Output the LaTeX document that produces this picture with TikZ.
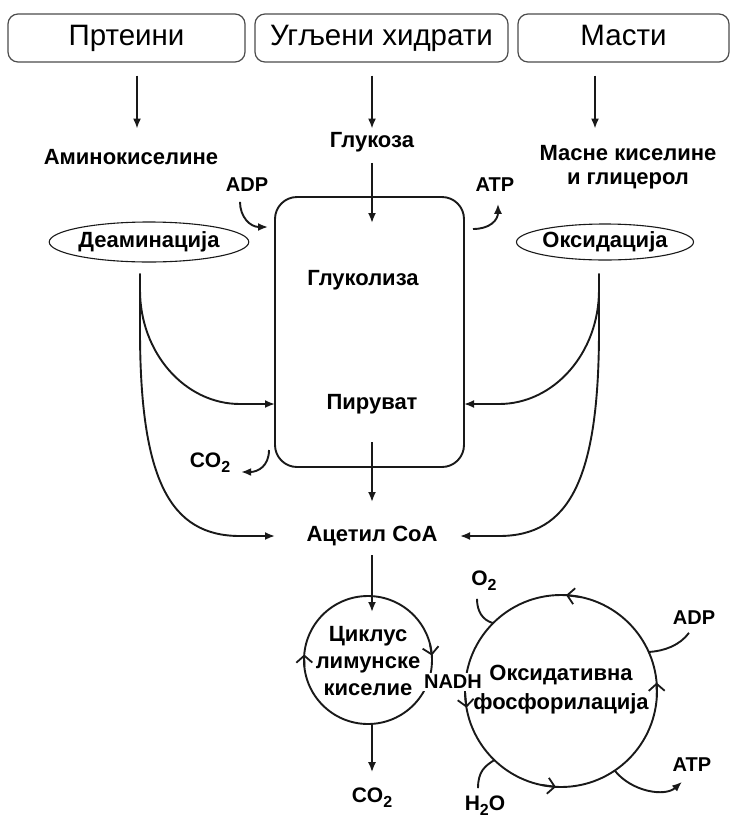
\documentclass[tikz,border=0pt]{standalone}
\usepackage{fontspec}
\setmainfont{Liberation Sans}
\usetikzlibrary{arrows.meta,calc,shapes.geometric}
\newcommand\lowtwo{\raisebox{-5pt}{\fontsize{16}{16}\selectfont 2}}
\begin{document}
\begin{tikzpicture}[x=1pt,y=-1pt,
  line width=1.9pt, draw=black!90,
  src/.style={draw=black!70, line width=1.2pt, rounded corners=10pt,
    minimum width=#1, minimum height=48pt, inner sep=0pt,
    text height=21pt, text depth=6pt,
    font=\fontsize{29.5}{29.5}\selectfont},
  lbl/.style={font=\bfseries\fontsize{22}{25}\selectfont, inner sep=1pt, align=center},
  sm/.style={font=\bfseries\fontsize{20}{20}\selectfont, inner sep=1pt},
  chem/.style={font=\bfseries\fontsize{21}{21}\selectfont, inner sep=1pt},
  oval/.style={ellipse, draw, line width=1.1pt, inner sep=0pt,
    minimum width=176pt, minimum height=#1,
    font=\bfseries\fontsize{22}{22}\selectfont},
  ring/.style={circle, draw, line width=1.9pt, inner sep=0pt, outer sep=0pt, minimum size=#1},
  arr/.style={-{Latex[length=10pt,width=8pt]}},
  chev/.style={-{Straight Barb[length=7pt,width=16pt,line width=1.8pt]}}]
\useasboundingbox (0,0) rectangle (731,820);

% nutrient sources
\node[src=237pt] (prot) at (126.5,38) {Пртеини};
\node[src=253pt] (carb) at (381.5,38) {Угљени хидрати};
\node[src=211pt] (fat)  at (623.5,38) {Масти};

% first products
\node[lbl] (amino) at (131,157) {Аминокиселине};
\node[lbl] (gluc)  at (372,142) {Глукоза};
\node[lbl, font=\bfseries\fontsize{22}{24}\selectfont] (fatty) at (628,167) {Масне киселине\\и глицерол};

\draw[arr] ($(prot.south)+(10.5,13)$) -- ($(prot.south)+(10.5,66)$);
\draw[arr] ($(carb.south)+(-9.5,13)$) -- ($(carb.south)+(-9.5,66)$);
\draw[arr] ($(fat.south)+(-28.5,13)$) -- ($(fat.south)+(-28.5,66)$);

% side pathways
\node[oval=40pt] (deam) at (149,242) {Деаминација};
\node[oval=36pt] (oxid) at (605,242) {Оксидација};

% glycolysis block
\node[draw, line width=1.9pt, rounded corners=22pt, minimum width=189pt,
  minimum height=270pt, inner sep=0pt, outer sep=0pt] (glyc) at (369.5,332) {};
\node[lbl] (glycl) at (363,280) {Глуколиза};
\node[lbl] (pyr) at (372,404) {Пируват};
\node[sm] (adp1) at (247,185) {ADP};
\node[sm] (atp1) at (495,185) {ATP};

\draw[arr] ($(gluc.south)+(0,9)$) -- ($(glyc.north -| gluc.south)+(0,26)$);
\draw[arr] ($(adp1.south)+(-7,8)$) .. controls +(0,15) and (250,227) .. (268,227);
\draw[arr] ($(glyc.east)+(9,-103)$) .. controls (490,229) and (498,220) .. ($(atp1.south)+(3,10)$);

% acetyl CoA
\node[lbl] (acet) at (372,536) {Ацетил CoA};
\node[chem] (co2a) at (210,463) {CO\lowtwo};
\draw[arr] ($(pyr.center)+(0,38)$) -- ($(acet.center)+(0,-34)$);
\draw[arr] ($(glyc.south west)+(-6,-17)$) .. controls +(0,16) and (258,472) .. ($(co2a.east)+(9,9)$);

% branches from deamination
\coordinate (dL) at ($(deam.south)+(-9,11)$);
\draw[arr] (dL) -- (140,290) .. controls (140,353) and (185,404) .. (240,404) -- (glyc.west |- pyr);
\draw[arr] (dL) -- (140,330) .. controls (140,480) and (170,536) .. (240,536) -- (glyc.west |- acet);
% branches from oxidation
\coordinate (oR) at ($(oxid.south)+(-6,13)$);
\draw[arr] (oR) -- (599,290) .. controls (599,353) and (554,404) .. (499,404) -- (glyc.east |- pyr);
\draw[arr] (oR) -- (599,330) .. controls (599,480) and (569,536) .. (499,536) -- ($(glyc.east |- acet)+(-4,0)$);

% citric acid cycle
\node[ring=128pt] (krebs) at (368,660) {};
\node[lbl, font=\bfseries\fontsize{22}{27}\selectfont] (krebst) at (368,661) {Циклус\\лимунске\\киселие};
\draw[chev] (krebs.186) -- (krebs.175);
\draw[chev] (krebs.14) -- (krebs.4);
\draw[arr] ($(acet.center)+(0,19)$) -- ($(krebs.north)+(4,16)$);
\node[chem] (co2b) at (372,798) {CO\lowtwo};
\draw[arr] ($(krebs.south)+(4,0)$) -- ($(co2b.north)+(0,-14)$);

% oxidative phosphorylation
\node[ring=192pt] (oxph) at (561,691) {};
\node[lbl, font=\bfseries\fontsize{22}{29}\selectfont] (oxpht) at (561,690) {Оксидативна\\фосфорилација};
\draw[chev] (oxph.78) -- (oxph.87);
\draw[chev] (oxph.-4) -- (oxph.5);
\draw[chev] (oxph.258) -- (oxph.267);
\draw[chev] (oxph.181) -- (oxph.190);

\node[sm, fill=white, inner sep=2pt] (nadh) at (453,682) {NADH};

\node[chem] (o2) at (484,581) {O\lowtwo};
\node[sm] (adp2) at (694,618) {ADP};
\node[chem] (h2o) at (485,806) {H\lowtwo O};
\node[sm] (atp2) at (692,765) {ATP};

\draw ($(o2.south)+(-7,6)$) .. controls +(0,12) and (482,620) .. (oxph.135);
\draw ($(adp2.south)+(-5,6)$) .. controls (680,645) and (665,651) .. (oxph.24);
\draw ($(h2o.north)+(-7,-6)$) .. controls +(0,-17) and (485,766) .. (oxph.226);
\draw[arr] (oxph.304) .. controls (632,792) and (665,797) .. ($(atp2.south)+(-10,8)$);
\end{tikzpicture}
\end{document}
